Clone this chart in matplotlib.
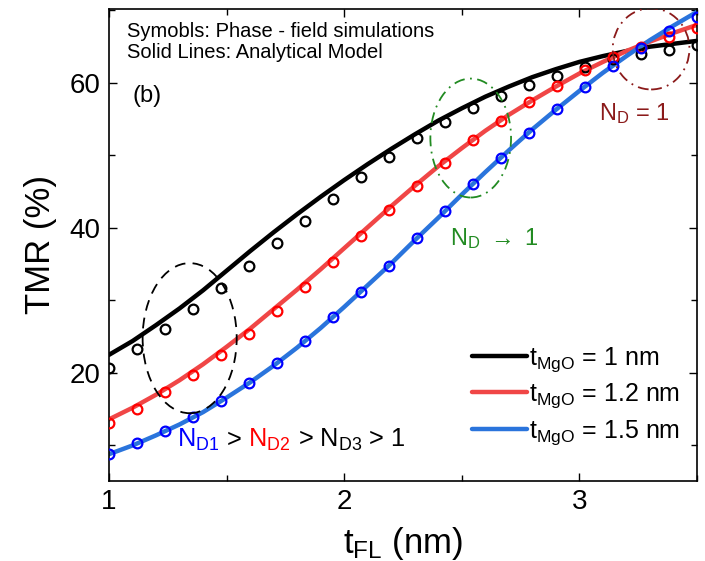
import matplotlib
matplotlib.use("Agg")
import matplotlib.pyplot as plt
from matplotlib.patches import Ellipse
from matplotlib.offsetbox import TextArea, HPacker, AnnotationBbox
from matplotlib.ticker import MultipleLocator

plt.rcParams['font.family'] = ['Liberation Sans', 'DejaVu Sans']
plt.rcParams['mathtext.fontset'] = 'custom'
plt.rcParams['mathtext.rm'] = 'Liberation Sans'
plt.rcParams['mathtext.it'] = 'Liberation Sans:italic'

# ---- data ----
# simulation points (symbols)
t_fl_sim = [1.000, 1.119, 1.238, 1.357, 1.476, 1.595, 1.714, 1.833, 1.952, 2.071, 2.190,
            2.310, 2.429, 2.548, 2.667, 2.786, 2.905, 3.024, 3.143, 3.262, 3.381, 3.500]
sim_1nm = [20.7, 23.3, 26.1, 28.8, 31.7, 34.8, 37.9, 41.0, 44.0, 47.0, 49.8,
           52.4, 54.6, 56.6, 58.2, 59.7, 61.0, 62.2, 63.3, 64.0, 64.6, 65.2]
sim_12nm = [13.1, 15.0, 17.4, 19.7, 22.5, 25.4, 28.6, 31.9, 35.3, 38.9, 42.5,
            45.8, 49.0, 52.1, 54.7, 57.4, 59.6, 61.8, 63.6, 65.0, 66.4, 67.6]
sim_15nm = [8.8, 10.3, 12.0, 13.9, 16.1, 18.6, 21.4, 24.4, 27.7, 31.2, 34.8,
            38.6, 42.3, 46.1, 49.7, 53.1, 56.4, 59.4, 62.3, 64.8, 67.2, 69.1]

# analytical model (lines)
t_fl_model = [1.0, 1.1, 1.2, 1.3, 1.4, 1.5, 1.6, 1.7, 1.8, 1.9, 2.0, 2.1, 2.2,
              2.3, 2.4, 2.5, 2.6, 2.7, 2.8, 2.9, 3.0, 3.1, 3.2, 3.3, 3.4, 3.5]
model_1nm = [22.5, 24.4, 26.6, 28.9, 31.4, 34.1, 36.8, 39.4, 41.9, 44.3, 46.6, 48.8, 50.9,
             52.9, 54.8, 56.5, 58.1, 59.5, 60.8, 61.9, 62.9, 63.7, 64.4, 65.0, 65.4, 65.8]
model_12nm = [13.6, 15.2, 17.0, 19.0, 21.2, 23.6, 26.1, 28.8, 31.5, 34.3, 37.2, 40.1, 43.0,
              45.8, 48.5, 51.0, 53.4, 55.6, 57.6, 59.5, 61.3, 62.9, 64.4, 65.7, 66.9, 68.0]
model_15nm = [8.8, 10.0, 11.4, 12.9, 14.6, 16.6, 18.7, 21.0, 23.5, 26.2, 29.1, 32.1, 35.1,
              38.3, 41.4, 44.6, 47.7, 50.7, 53.6, 56.3, 58.9, 61.4, 63.7, 65.9, 67.9, 69.8]

labels = [r"t$_{\mathrm{MgO}}$ = 1 nm", r"t$_{\mathrm{MgO}}$ = 1.2 nm", r"t$_{\mathrm{MgO}}$ = 1.5 nm"]
line_colors = ['#000000', '#f04646', '#2a74dc']
marker_colors = ['#000000', '#ff0000', '#0000ff']

fig = plt.figure(figsize=(7.05, 5.61), dpi=100)
ax = fig.add_axes([0.1546, 0.1426, 0.834, 0.8414])

models = [model_1nm, model_12nm, model_15nm]
sims = [sim_1nm, sim_12nm, sim_15nm]
handles = []
for m, s, lc, mc, lab in zip(models, sims, line_colors, marker_colors, labels):
    h, = ax.plot(t_fl_model, m, color=lc, lw=3.2, label=lab, zorder=2, solid_capstyle='round')
    handles.append(h)
    ax.plot(t_fl_sim, s, linestyle='none', marker='o', ms=7, mfc='none', mec=mc,
            mew=1.6, zorder=3)

ax.set_xlim(1, 3.5)
ax.set_ylim(5.1, 70.2)
ax.xaxis.set_major_locator(MultipleLocator(1))
ax.xaxis.set_minor_locator(MultipleLocator(0.5))
ax.yaxis.set_major_locator(MultipleLocator(20))
ax.yaxis.set_minor_locator(MultipleLocator(10))
ax.tick_params(which='both', direction='in', top=True, right=True, width=1.0)
ax.tick_params(which='major', length=6, labelsize=20, pad=6)
ax.tick_params(which='minor', length=4)
for sp in ax.spines.values():
    sp.set_linewidth(1.2)

ax.set_xlabel(r"t$_{\mathrm{FL}}$ (nm)", fontsize=25, labelpad=7)
ax.set_ylabel("TMR (%)", fontsize=25, labelpad=9)

# ellipses
ax.add_patch(Ellipse((1.343, 24.8), 0.40, 20.7, fill=False, ec='black', ls=(0, (6, 4)), lw=1.3, zorder=4))
ax.add_patch(Ellipse((2.538, 52.4), 0.343, 16.4, fill=False, ec='#228b22', ls=(0, (6, 3, 1, 3)), lw=1.3, zorder=4))
ax.add_patch(Ellipse((3.305, 64.7), 0.326, 11.2, fill=False, ec='#8b1a1a', ls=(0, (6, 3, 1, 3)), lw=1.3, zorder=4))

# texts
ax.text(0.031, 0.953, "Symobls: Phase - field simulations", transform=ax.transAxes,
        fontsize=14.5, va='center', ha='left')
ax.text(0.031, 0.907, "Solid Lines: Analytical Model", transform=ax.transAxes,
        fontsize=14.5, va='center', ha='left')
ax.text(0.04, 0.815, "(b)", transform=ax.transAxes, fontsize=17, va='center', ha='left')
ax.text(3.085, 55.8, r"N$_{\mathrm{D}}$ = 1", color='#8b1a1a', fontsize=17, va='center', ha='left')
ax.text(2.449, 38.6, r"N$_{\mathrm{D}}$ $\rightarrow$ 1", color='#228b22', fontsize=17, va='center', ha='left')

tp = dict(fontsize=18.3)
parts = [
    TextArea(r"N$_{\mathrm{D1}}$", textprops=dict(color='#0000ff', **tp)),
    TextArea(" > ", textprops=dict(color='black', **tp)),
    TextArea(r"N$_{\mathrm{D2}}$", textprops=dict(color='#ff0000', **tp)),
    TextArea(r" > N$_{\mathrm{D3}}$ > 1", textprops=dict(color='black', **tp)),
]
pack = HPacker(children=parts, align='baseline', pad=0, sep=0)
ab = AnnotationBbox(pack, (1.29, 8.9), xycoords='data', frameon=False,
                    box_alignment=(0, 0), pad=0)
ax.add_artist(ab)

leg = ax.legend(handles=handles, loc='center left', bbox_to_anchor=(0.617, 0.18),
                frameon=False, fontsize=18, handlelength=2.2, handletextpad=0.1,
                labelspacing=0.3, borderaxespad=0, borderpad=0)

fig.savefig("out.png", dpi=100)
